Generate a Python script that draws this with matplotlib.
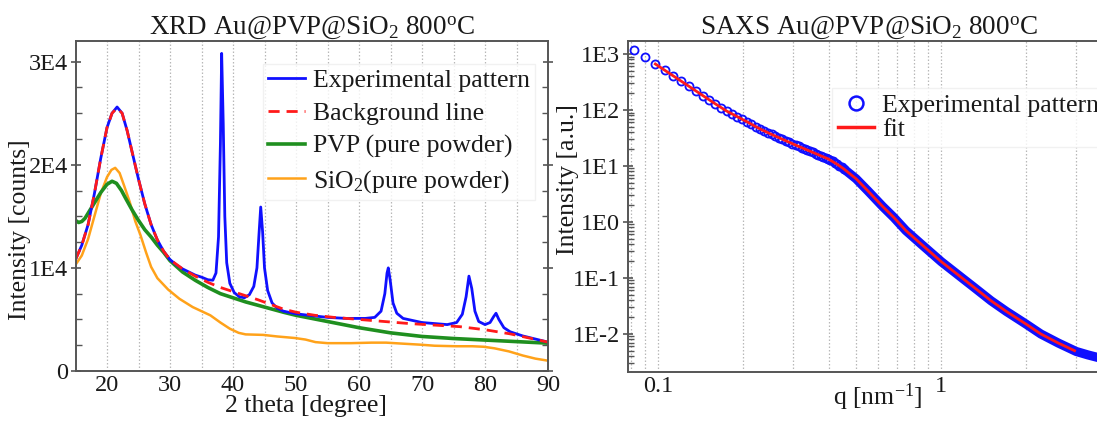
import matplotlib
matplotlib.use("Agg")
import matplotlib.pyplot as plt
from matplotlib.lines import Line2D
from matplotlib.ticker import FixedLocator, NullFormatter, LogLocator
import numpy as np

plt.rcParams['font.family'] = ['Liberation Serif', 'DejaVu Serif']
plt.rcParams['mathtext.fontset'] = 'custom'
plt.rcParams['mathtext.rm'] = 'Liberation Serif'
plt.rcParams['mathtext.it'] = 'Liberation Serif:italic'
plt.rcParams['mathtext.bf'] = 'Liberation Serif:bold'

# ---------------- XRD data (2 theta, counts) ----------------
xrd_exp_x = [15, 16, 17, 18, 19, 20, 20.8, 21.6, 22.4, 23.2, 24, 25, 26, 27, 28, 29, 30, 31, 32, 33, 34, 35,
             36, 36.8, 37.3, 37.7, 38.0, 38.2, 38.45, 38.7, 39.0, 39.5, 40.2, 41.0, 41.8, 42.6, 43.3, 43.8,
             44.15, 44.4, 44.7, 45.0, 45.5, 46.2, 47, 48, 50, 52, 55, 58, 61, 62.5, 63.5, 64.1, 64.45, 64.65,
             64.95, 65.4, 66, 67, 68.5, 70, 72, 74, 75.5, 76.4, 77.0, 77.45, 77.9, 78.4, 79.0, 80.0, 80.8,
             81.4, 81.75, 82.2, 83, 84, 86, 88, 90]
xrd_exp_y = [1.08, 1.22, 1.42, 1.72, 2.06, 2.36, 2.50, 2.56, 2.50, 2.33, 2.12, 1.86, 1.62, 1.42, 1.27, 1.16,
             1.08, 1.03, 0.99, 0.96, 0.93, 0.91, 0.885, 0.88, 0.95, 1.3, 2.2, 3.08, 2.4, 1.5, 1.05, 0.85,
             0.76, 0.72, 0.71, 0.74, 0.82, 1.0, 1.35, 1.59, 1.35, 1.0, 0.78, 0.66, 0.61, 0.58, 0.555, 0.54,
             0.52, 0.51, 0.51, 0.52, 0.58, 0.75, 0.95, 1.0, 0.88, 0.66, 0.56, 0.51, 0.49, 0.47, 0.46, 0.45,
             0.47, 0.55, 0.72, 0.92, 0.8, 0.58, 0.48, 0.45, 0.47, 0.53, 0.56, 0.5, 0.42, 0.38, 0.34, 0.31,
             0.28]

xrd_bg_x = [15, 16, 17, 18, 19, 20, 20.8, 21.6, 22.4, 23.2, 24, 25, 26, 27, 28, 29, 30, 32, 34, 36, 38, 40,
            42, 44, 46, 48, 50, 53, 56, 60, 64, 68, 72, 76, 80, 84, 87, 90]
xrd_bg_y = [1.08, 1.22, 1.42, 1.72, 2.06, 2.36, 2.50, 2.55, 2.50, 2.33, 2.12, 1.86, 1.62, 1.42, 1.27, 1.16,
            1.08, 0.99, 0.92, 0.86, 0.81, 0.77, 0.73, 0.69, 0.645, 0.60, 0.57, 0.54, 0.52, 0.50, 0.48, 0.46,
            0.445, 0.43, 0.40, 0.36, 0.32, 0.28]

xrd_pvp_x = [15, 15.5, 16, 16.5, 17, 18, 19, 20, 20.8, 21.5, 22.3, 23, 24, 25, 26, 27, 28, 29, 30, 32, 34,
             36, 38, 40, 42, 45, 48, 50, 55, 60, 65, 70, 75, 80, 85, 90]
xrd_pvp_y = [1.46, 1.44, 1.45, 1.48, 1.53, 1.63, 1.73, 1.81, 1.84, 1.82, 1.75, 1.67, 1.56, 1.46, 1.37, 1.30,
             1.22, 1.15, 1.07, 0.96, 0.88, 0.81, 0.75, 0.71, 0.67, 0.62, 0.57, 0.54, 0.48, 0.42, 0.37, 0.335,
             0.315, 0.30, 0.285, 0.27]

xrd_sio2_x = [15, 16, 17, 18, 19, 20, 20.7, 21.3, 22, 22.7, 23.6, 24.5, 25.3, 26.2, 27, 28, 29.7, 31.5, 33.6,
              35, 36.4, 38, 39.5, 40.9, 42, 44.8, 47, 49.8, 51.5, 53.1, 55, 58.7, 62, 64.3, 67, 69.8, 72,
              75.4, 78, 79.8, 81.5, 83.8, 86, 88, 90]
xrd_sio2_y = [1.03, 1.12, 1.28, 1.50, 1.72, 1.88, 1.95, 1.97, 1.92, 1.80, 1.64, 1.45, 1.32, 1.15, 1.01, 0.90,
              0.79, 0.70, 0.62, 0.58, 0.54, 0.47, 0.41, 0.37, 0.355, 0.35, 0.335, 0.32, 0.305, 0.28, 0.27,
              0.27, 0.275, 0.275, 0.265, 0.255, 0.245, 0.24, 0.24, 0.235, 0.22, 0.19, 0.15, 0.12, 0.10]

xrd_labels = ["Experimental pattern", "Background line", "PVP (pure powder)", "SiO$_2$(pure powder)"]
xrd_yticks = [0, 1e4, 2e4, 3e4]
xrd_yticklabels = ["0", "1E4", "2E4", "3E4"]
xrd_xticks = [20, 30, 40, 50, 60, 70, 80, 90]

# ---------------- SAXS data (q [nm^-1], intensity) ----------------
saxs_circ_q = [0.0822, 0.0899, 0.0976, 0.1053, 0.1130, 0.1207, 0.1284, 0.1361, 0.1438, 0.1515, 0.1592,
               0.1669, 0.1746, 0.1823, 0.1900, 0.1977, 0.2054, 0.2131, 0.2208, 0.2285, 0.2362, 0.2439,
               0.2516, 0.2593, 0.2670, 0.2747, 0.2824, 0.2901, 0.2978, 0.3055, 0.3132, 0.3209, 0.3286,
               0.3363, 0.3440, 0.3517, 0.3594, 0.3671, 0.3748, 0.3825, 0.3902, 0.3979, 0.4056, 0.4133,
               0.4210, 0.4287, 0.4364, 0.4441, 0.4518]
saxs_circ_I = [1180, 873, 662, 513, 405, 324, 264, 217, 180, 151, 128, 109, 95.2, 84.9, 76.0, 68.4, 61.7,
               55.7, 50.5, 45.9, 42.3, 39.3, 36.5, 34.1, 31.9, 29.9, 28.1, 26.5, 25.0, 23.6, 22.4, 21.2,
               20.2, 19.2, 18.2, 17.4, 16.6, 15.9, 15.2, 14.6, 14.0, 13.4, 12.9, 12.1, 11.3, 10.7, 10.0,
               9.44, 8.91]
saxs_band_q = [0.4518, 0.50, 0.55, 0.62, 0.68, 0.75, 0.85, 1.0, 1.15, 1.3, 1.5, 1.7, 2.0, 2.25, 2.6, 3.0,
               3.3, 3.6, 4.0]
saxs_band_I = [8.91, 5.9, 3.6, 1.9, 1.2, 0.70, 0.40, 0.195, 0.112, 0.0690, 0.0390, 0.0251, 0.0148,
               0.00993, 0.0068, 0.00484, 0.0042, 0.00375, 0.00337]
saxs_fit_q = [0.0976, 0.1130, 0.1284, 0.1438, 0.1592, 0.1746, 0.1900, 0.2054, 0.2285, 0.2516, 0.2747,
              0.3055, 0.3363, 0.3671, 0.3979, 0.4287, 0.4518, 0.50, 0.55, 0.62, 0.68, 0.75, 0.85, 1.0, 1.15,
              1.3, 1.5, 1.7, 2.0, 2.25, 2.6, 2.96]
saxs_fit_I = [662, 405, 264, 180, 128, 95.2, 76.0, 61.7, 45.9, 36.5, 29.9, 23.6, 19.2, 15.9, 13.4, 10.7,
              8.91, 5.9, 3.6, 1.9, 1.2, 0.70, 0.40, 0.195, 0.112, 0.0690, 0.0390, 0.0251, 0.0148,
              0.00993, 0.0068, 0.0050]
saxs_labels = ["Experimental pattern", "fit"]
saxs_yticks = [1e-2, 1e-1, 1, 10, 100, 1000]
saxs_yticklabels = ["1E-2", "1E-1", "1E0", "1E1", "1E2", "1E3"]

# ---------------- styling ----------------
W, H = 1097, 421
BLUE = '#1010ff'
RED = '#ff1a1a'
GREEN = '#1f8f1f'
ORANGE = '#ffa21a'
SPINE = '#555555'
GRID = '#b8b8b8'
TXT = '#1a1a1a'
FS = 18.5

fig = plt.figure(figsize=(W / 100, H / 100), dpi=100)


def px_axes(x0, y0, x1, y1):
    return fig.add_axes([x0 / W, 1 - y1 / H, (x1 - x0) / W, (y1 - y0) / H])


def style(ax):
    for s in ax.spines.values():
        s.set_color(SPINE)
        s.set_linewidth(1.4)
    ax.tick_params(axis='both', which='both', colors=SPINE, labelcolor=TXT, labelsize=17.5)
    ax.tick_params(axis='x', which='both', length=0, pad=3)
    ax.tick_params(axis='y', which='major', direction='inout', length=7, width=1.2, pad=2)
    ax.tick_params(axis='y', which='minor', direction='in', length=4, width=1.0)
    ax.grid(True, axis='x', which='both', color=GRID, linestyle=(0, (1.2, 1.6)), linewidth=0.9)
    ax.set_axisbelow(True)


# ---------------- left: XRD ----------------
X0, X1, Y0, Y1 = 75.5, 548, 41, 371
ax1 = px_axes(X0, Y0, X1, Y1)
ax1.plot(xrd_sio2_x, np.array(xrd_sio2_y) * 1e4, color=ORANGE, lw=1.8, label=xrd_labels[3])
ax1.plot(xrd_pvp_x, np.array(xrd_pvp_y) * 1e4, color=GREEN, lw=2.6, label=xrd_labels[2])
ax1.plot(xrd_exp_x, np.array(xrd_exp_y) * 1e4, color=BLUE, lw=2.0, label=xrd_labels[0])
ax1.plot(xrd_bg_x, np.array(xrd_bg_y) * 1e4, color=RED, lw=2.0, linestyle=(0, (4, 2.5)), label=xrd_labels[1])
ax1.set_xlim(15, 90)
ax1.set_ylim(0, 32000)
ax1.xaxis.set_major_locator(FixedLocator(xrd_xticks))
ax1.xaxis.set_minor_locator(FixedLocator([25, 35, 45, 55, 65, 75, 85]))
ax1.yaxis.set_major_locator(FixedLocator(xrd_yticks))
ax1.set_yticklabels(xrd_yticklabels)
ax1.yaxis.set_minor_locator(FixedLocator(np.arange(2500, 32000, 2500)))
ax1.tick_params(axis='y', which='both', right=True)
style(ax1)
ax1.set_title("XRD Au@PVP@SiO$_2$ 800$^{\\mathrm{o}}$C", fontsize=19.5, color=TXT, pad=4)
ax1.set_xlabel("2 theta [degree]", fontsize=FS, color=TXT)
ax1.xaxis.set_label_coords(0.487, (Y1 - 395) / (Y1 - Y0))
ax1.set_ylabel("Intensity [counts]", fontsize=FS, color=TXT)
ax1.yaxis.set_label_coords((31 - X0) / (X1 - X0), (Y1 - 230) / (Y1 - Y0))

h = ax1.get_legend_handles_labels()[0]
order = [2, 3, 1, 0]
leg1 = ax1.legend([h[i] for i in order], xrd_labels, loc='upper left',
                  bbox_to_anchor=((263 - X0) / (X1 - X0), (Y1 - 64) / (Y1 - Y0)),
                  fontsize=FS, frameon=True, fancybox=False, edgecolor='#eeeeee',
                  handlelength=1.45, handletextpad=0.3, labelspacing=0.38, borderpad=0.2,
                  borderaxespad=0)
for t in leg1.get_texts():
    t.set_color(TXT)

# ---------------- right: SAXS ----------------
U0, U1, V0, V1 = 627.5, 1110, 41, 371.5
ax2 = px_axes(U0, V0, U1, V1)
ax2.set_xscale('log')
ax2.set_yscale('log')
ax2.plot(saxs_band_q, saxs_band_I, color=BLUE, lw=6.6, solid_capstyle='round', solid_joinstyle='round')
ax2.plot(saxs_circ_q, saxs_circ_I, linestyle='none', marker='o', ms=5.8, mfc='none', mec=BLUE, mew=1.3)
ax2.plot(saxs_fit_q, saxs_fit_I, color=RED, lw=2.0)
ax2.set_xlim(0.0778, 3.95)
ax2.set_ylim(10 ** -2.673, 10 ** 3.232)
ax2.xaxis.set_major_locator(FixedLocator([0.1, 1]))
ax2.set_xticklabels(["0.1", "1"])
ax2.xaxis.set_minor_locator(LogLocator(base=10, subs=np.arange(2, 10)))
ax2.xaxis.set_minor_formatter(NullFormatter())
ax2.yaxis.set_major_locator(FixedLocator(saxs_yticks))
ax2.set_yticklabels(saxs_yticklabels)
ax2.yaxis.set_minor_locator(LogLocator(base=10, subs=np.arange(2, 10)))
ax2.yaxis.set_minor_formatter(NullFormatter())
style(ax2)
ax2.spines['right'].set_visible(False)
ax2.set_title("SAXS Au@PVP@SiO$_2$ 800$^{\\mathrm{o}}$C", fontsize=19.5, color=TXT, pad=4)
ax2.set_xlabel("q [nm$^{-1}$]", fontsize=FS, color=TXT)
ax2.xaxis.set_label_coords((878 - U0) / (U1 - U0), (V1 - 381) / (V1 - V0))
ax2.set_ylabel("Intensity [a.u.]", fontsize=FS, color=TXT)
ax2.yaxis.set_label_coords((579 - U0) / (U1 - U0), (V1 - 180) / (V1 - V0))

hexp = Line2D([], [], linestyle='none', marker='o', ms=10, mfc='none', mec=BLUE, mew=1.8)
hfit = Line2D([], [], color=RED, lw=2.5)
leg2 = ax2.legend([hexp, hfit], saxs_labels, loc='upper left',
                  bbox_to_anchor=((832 - U0) / (U1 - U0), (V1 - 88) / (V1 - V0)),
                  fontsize=FS, frameon=True, fancybox=False, edgecolor='#eeeeee',
                  handlelength=1.4, handletextpad=0.3, labelspacing=0.02, borderpad=0.25,
                  borderaxespad=0)
for t in leg2.get_texts():
    t.set_color(TXT)

fig.savefig("out.png", dpi=100)
